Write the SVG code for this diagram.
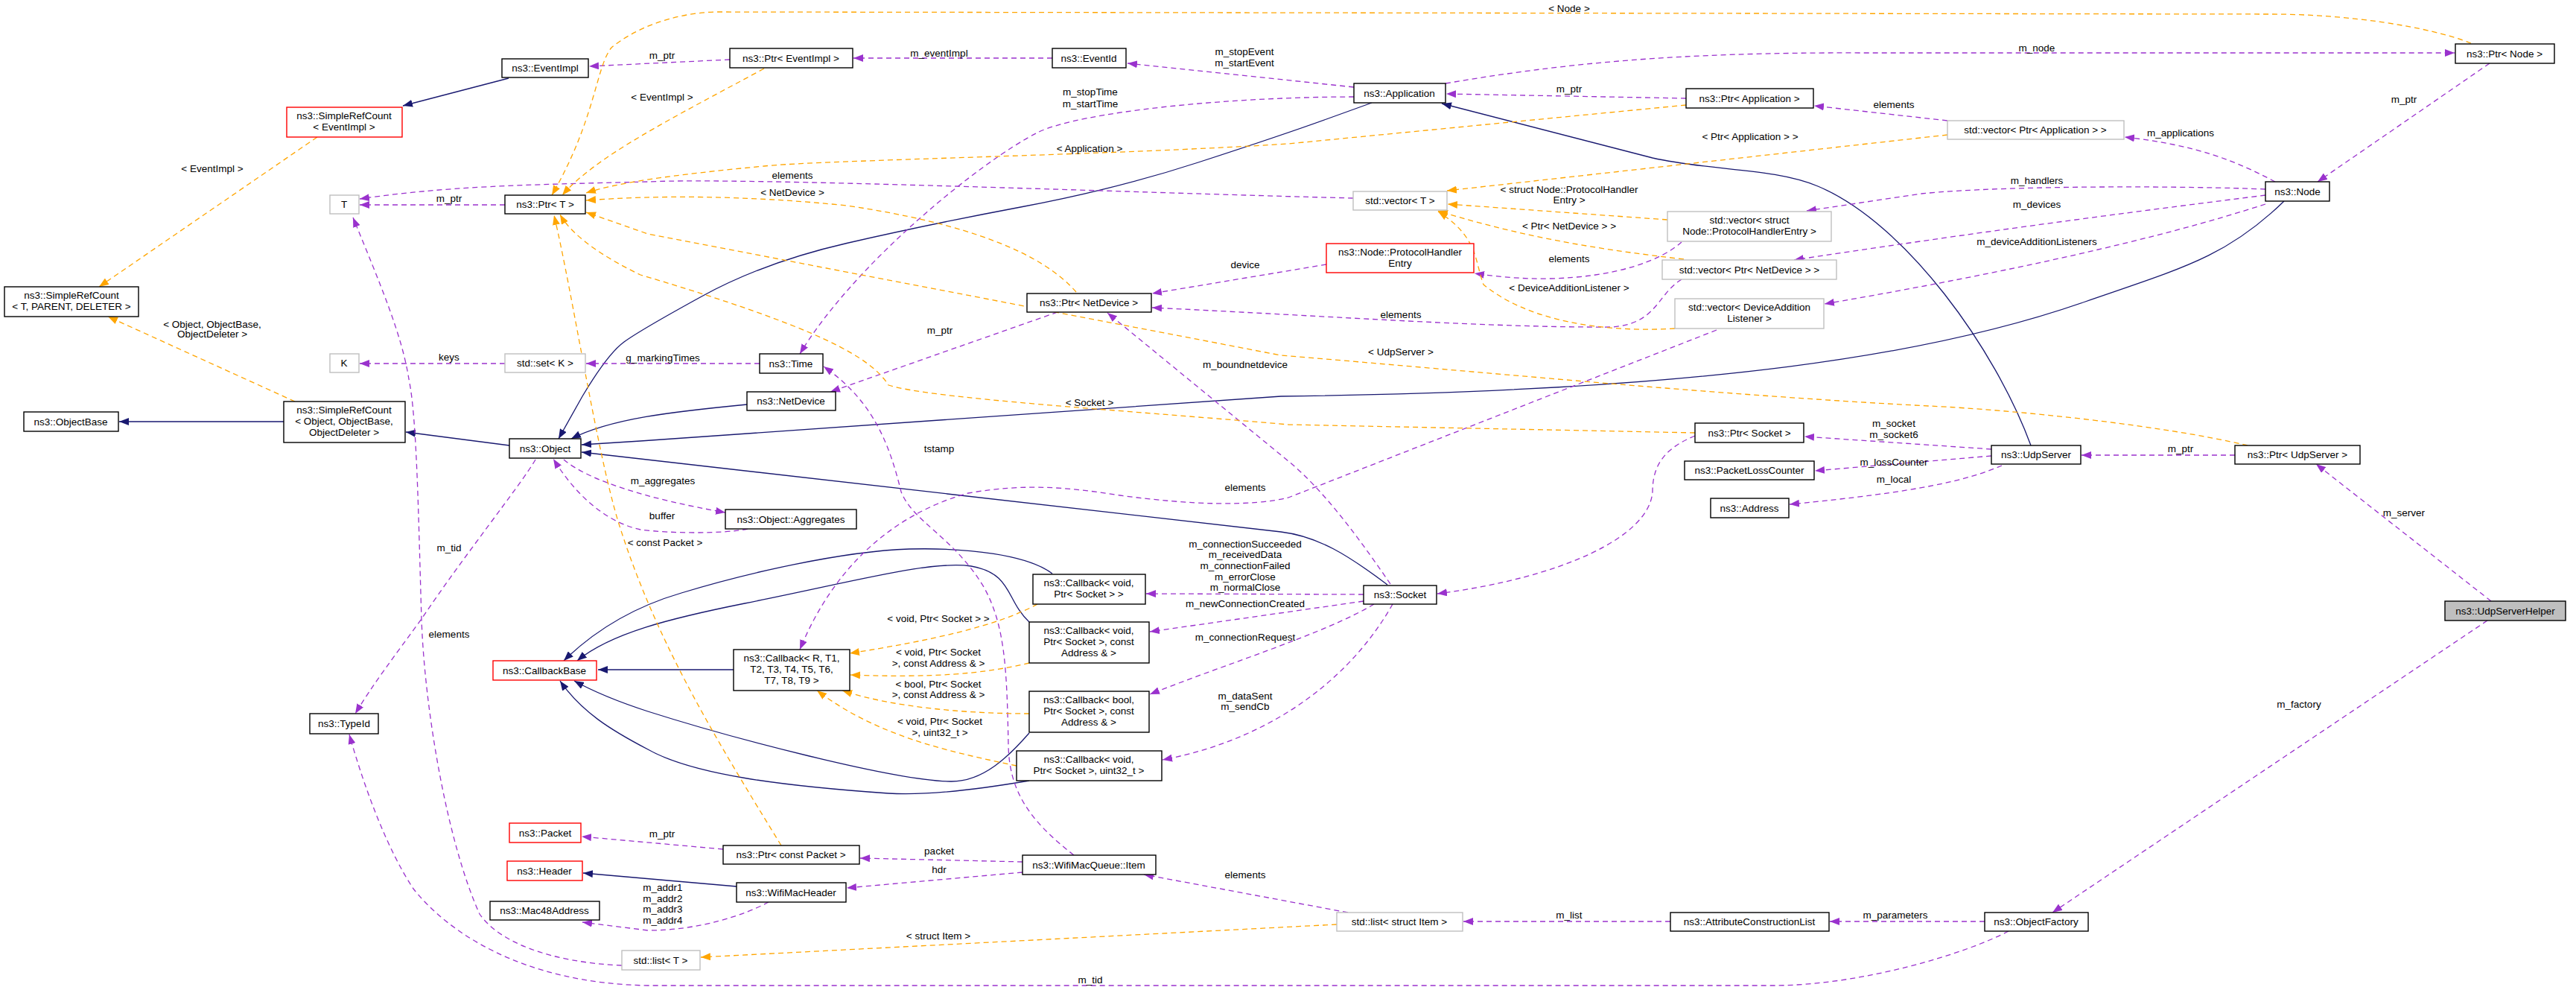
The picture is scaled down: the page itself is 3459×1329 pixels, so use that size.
<svg xmlns="http://www.w3.org/2000/svg" width="3459" height="1329" viewBox="0 0 3459 1329">
<style>
text{font-family:"Liberation Sans",Arial,sans-serif;font-size:13.5px;text-anchor:middle;fill:#000}
.nd rect{fill:#fff;stroke:#000;stroke-width:1.4}
.gr rect{fill:#fff;stroke:#bfbfbf;stroke-width:1.4}
.rd rect{fill:#fff;stroke:#ff0000;stroke-width:1.4}
.cur rect{fill:#bfbfbf;stroke:#000;stroke-width:1.4}
#edges path{fill:none;stroke-width:1.3}
#edges .i{stroke:#191970;marker-end:url(#an)}
#edges .u{stroke:#9a32cd;stroke-dasharray:7,5;marker-end:url(#ap)}
#edges .t{stroke:#ffa500;stroke-dasharray:7,5;marker-end:url(#ao)}
</style>
<defs>
<marker id="an" markerUnits="userSpaceOnUse" markerWidth="14" markerHeight="10" refX="13" refY="5" orient="auto"><path d="M0,0L13,5L0,10z" fill="#191970"/></marker>
<marker id="ap" markerUnits="userSpaceOnUse" markerWidth="14" markerHeight="10" refX="13" refY="5" orient="auto"><path d="M0,0L13,5L0,10z" fill="#9a32cd"/></marker>
<marker id="ao" markerUnits="userSpaceOnUse" markerWidth="14" markerHeight="10" refX="13" refY="5" orient="auto"><path d="M0,0L13,5L0,10z" fill="#ffa500"/></marker>
</defs>
<rect width="3459" height="1329" fill="#fff"/>
<g id="edges">
<path class="i" d="M683,105L541,142"/>
<path class="i" d="M381,566L160,566"/>
<path class="i" d="M684,598L545,580"/>
<path class="i" d="M1842,138L1781,160Q1720,182 1609,218Q1498,254 1373,277.5Q1248,301 1137,326.5Q1026,352 943,397.5Q860,443 838,459Q816,475 782,532L750,589"/>
<path class="i" d="M1003,543C900,553 820,562 767,589"/>
<path class="i" d="M3067,270C2990,345 2930,360 2800,405C2600,475 2300,525 1720,532L860,592L781,597"/>
<path class="i" d="M2727,598C2680,470 2560,300 2441,250C2380,225 2300,230 2219,212L1936,139"/>
<path class="i" d="M1863,785C1810,745 1770,720 1720,714L781,607"/>
<path class="i" d="M985,899L803,899"/>
<path class="i" d="M1413,770C1380,745 1300,735 1221,737C1130,740 1000,770 915,796C850,815 800,845 757,887"/>
<path class="i" d="M1382,835C1350,805 1360,770 1304,760C1250,752 1150,780 1000,810C900,830 820,850 775,887"/>
<path class="i" d="M1382,984C1355,1015 1320,1050 1276,1049C1200,1048 980,990 870,955C830,942 800,930 771,914"/>
<path class="i" d="M1382,1048C1300,1062 1240,1068 1193,1065C1050,1055 930,1040 870,1006C820,980 780,955 752,914"/>
<path class="i" d="M989,1190L783,1172"/>

<path class="u" d="M980,80L791,89"/>
<path class="u" d="M1413,78L1146,78"/>
<path class="u" d="M1818,117L1514,85"/>
<path class="u" d="M1818,130C1650,130 1450,150 1393,178C1320,215 1150,350 1074,475"/>
<path class="u" d="M678,275L483,275"/>
<path class="u" d="M1817,266C1500,258 1000,238 870,244C700,248 600,250 483,267"/>
<path class="u" d="M678,488L483,488"/>
<path class="u" d="M1020,488L787,488"/>
<path class="u" d="M2264,132L1942,126"/>
<path class="u" d="M2615,162L2436,142"/>
<path class="u" d="M3055,244C3000,215 2950,195 2853,184"/>
<path class="u" d="M3343,85L3112,244"/>
<path class="u" d="M1941,112C2100,85 2250,70 2500,71L3296,71"/>
<path class="u" d="M3042,254C2950,250 2700,248 2580,260L2426,283"/>
<path class="u" d="M3042,262C2900,280 2700,305 2409,349"/>
<path class="u" d="M3042,274C2900,320 2700,365 2450,408"/>
<path class="u" d="M2258,325C2230,350 2170,372 2081,374C2040,375 2000,370 1980,367"/>
<path class="u" d="M2258,375C2225,395 2225,435 2164,439C2000,440 1800,425 1547,413"/>
<path class="u" d="M1781,355L1547,394"/>
<path class="u" d="M1420,419L1115,526"/>
<path class="u" d="M1867,784C1830,730 1780,660 1730,619L1487,420"/>
<path class="u" d="M2305,443L1730,668C1680,680 1600,678 1504,665C1440,655 1380,648 1300,662C1200,690 1120,760 1074,872"/>
<path class="u" d="M757,617C790,645 870,670 974,688"/>
<path class="u" d="M1004,710C970,717 900,716 860,711C810,700 770,660 743,616"/>
<path class="u" d="M719,617C700,650 620,750 566,831C530,880 500,920 477,958"/>
<path class="u" d="M835,1296C740,1292 670,1265 644,1227C600,1130 570,950 566,831C562,700 560,560 549,509C540,450 510,380 474,292"/>
<path class="u" d="M2697,1250C2640,1280 2500,1323 2380,1323L870,1323C700,1320 600,1250 555,1193C520,1140 490,1060 469,986"/>
<path class="u" d="M971,1140L781,1123"/>
<path class="u" d="M1373,1157L1155,1152"/>
<path class="u" d="M1373,1171L1137,1192"/>
<path class="u" d="M1032,1211C1000,1228 940,1249 870,1249L782,1238"/>
<path class="u" d="M1442,1148C1380,1100 1355,1060 1354,1000C1352,900 1350,840 1321,788C1280,720 1225,700 1210,660C1195,600 1175,540 1106,492"/>
<path class="u" d="M1810,1225L1536,1174"/>
<path class="u" d="M2243,1237L1965,1237"/>
<path class="u" d="M2665,1237L2457,1237"/>
<path class="u" d="M3340,833L2756,1225"/>
<path class="u" d="M3345,807L3110,623"/>
<path class="u" d="M3001,611L2795,611"/>
<path class="u" d="M2674,603L2423,586"/>
<path class="u" d="M2674,612L2437,632"/>
<path class="u" d="M2688,625C2640,645 2580,660 2403,677"/>
<path class="u" d="M2276,585C2240,600 2219,620 2219,660C2215,720 2100,775 1930,797"/>
<path class="u" d="M1831,798L1539,797"/>
<path class="u" d="M1831,807L1544,848"/>
<path class="u" d="M1845,811C1780,850 1650,890 1544,932"/>
<path class="u" d="M1870,811C1820,900 1720,990 1561,1020"/>

<path class="t" d="M1026,92C900,160 800,210 755,262"/>
<path class="t" d="M426,184L133,385"/>
<path class="t" d="M396,539L145,425"/>
<path class="t" d="M3318,58C3260,35 3150,19 3050,19L960,16C900,18 850,40 821,64C800,90 800,160 741,262"/>
<path class="t" d="M2264,141L1730,193C1500,208 1100,215 1026,223C900,235 830,245 787,259"/>
<path class="t" d="M2615,181L1943,256"/>
<path class="t" d="M2239,295L1944,274"/>
<path class="t" d="M2261,348C2150,335 2050,320 1931,283"/>
<path class="t" d="M2249,441C2150,447 2050,430 1992,382C1980,350 1985,318 1931,284"/>
<path class="t" d="M1445,392C1400,340 1300,300 1137,276C1000,262 880,262 787,269"/>
<path class="t" d="M3018,598C2900,570 2700,550 2590,545C2300,530 2000,500 1720,477L870,314L787,285"/>
<path class="t" d="M2276,581L1730,570C1500,550 1250,535 1193,517C1170,480 1100,440 860,369C820,350 770,320 752,288"/>
<path class="t" d="M1049,1135C960,990 880,860 830,700C800,600 770,400 744,289"/>
<path class="t" d="M1393,811C1340,840 1250,860 1141,877"/>
<path class="t" d="M1382,890C1320,905 1250,910 1142,906"/>
<path class="t" d="M1382,958C1300,958 1200,950 1131,927"/>
<path class="t" d="M1365,1028C1280,1010 1180,990 1097,927"/>
<path class="t" d="M1795,1241L941,1285"/>
</g>
<g id="labels">
<text x="889" y="79">m_ptr</text>
<text x="1261" y="76">m_eventImpl</text>
<text x="1671" y="74">m_stopEvent</text><text x="1671" y="89">m_startEvent</text>
<text x="1464" y="128">m_stopTime</text><text x="1464" y="144">m_startTime</text>
<text x="1463" y="204">&lt; Application &gt;</text>
<text x="1064" y="240">elements</text>
<text x="1064" y="263">&lt; NetDevice &gt;</text>
<text x="889" y="135">&lt; EventImpl &gt;</text>
<text x="1672" y="360">device</text>
<text x="1262" y="448">m_ptr</text>
<text x="890" y="485">g_markingTimes</text>
<text x="1672" y="494">m_boundnetdevice</text>
<text x="1463" y="545">&lt; Socket &gt;</text>
<text x="1261" y="607">tstamp</text>
<text x="890" y="650">m_aggregates</text>
<text x="1672" y="659">elements</text>
<text x="285" y="231">&lt; EventImpl &gt;</text>
<text x="603" y="271">m_ptr</text>
<text x="285" y="440">&lt; Object, ObjectBase,</text><text x="285" y="453">ObjectDeleter &gt;</text>
<text x="603" y="484">keys</text>
<text x="2107" y="16">&lt; Node &gt;</text>
<text x="2107" y="124">m_ptr</text>
<text x="2543" y="145">elements</text>
<text x="2350" y="188">&lt; Ptr&lt; Application &gt; &gt;</text>
<text x="2107" y="259">&lt; struct Node::ProtocolHandler</text><text x="2107" y="273">Entry &gt;</text>
<text x="2107" y="308">&lt; Ptr&lt; NetDevice &gt; &gt;</text>
<text x="2107" y="352">elements</text>
<text x="2107" y="391">&lt; DeviceAdditionListener &gt;</text>
<text x="1881" y="427">elements</text>
<text x="1881" y="477">&lt; UdpServer &gt;</text>
<text x="2543" y="573">m_socket</text><text x="2543" y="588">m_socket6</text>
<text x="2543" y="625">m_lossCounter</text>
<text x="2543" y="648">m_local</text>
<text x="2735" y="69">m_node</text>
<text x="3228" y="138">m_ptr</text>
<text x="2928" y="183">m_applications</text>
<text x="2735" y="247">m_handlers</text>
<text x="2735" y="279">m_devices</text>
<text x="2735" y="329">m_deviceAdditionListeners</text>
<text x="2928" y="607">m_ptr</text>
<text x="603" y="740">m_tid</text>
<text x="603" y="856">elements</text>
<text x="889" y="697">buffer</text>
<text x="893" y="733">&lt; const Packet &gt;</text>
<text x="1672" y="735">m_connectionSucceeded</text><text x="1672" y="749">m_receivedData</text><text x="1672" y="764">m_connectionFailed</text><text x="1672" y="779">m_errorClose</text><text x="1672" y="793">m_normalClose</text>
<text x="1672" y="815">m_newConnectionCreated</text>
<text x="1672" y="860">m_connectionRequest</text>
<text x="1260" y="835">&lt; void, Ptr&lt; Socket &gt; &gt;</text>
<text x="1260" y="880">&lt; void, Ptr&lt; Socket</text><text x="1260" y="895">&gt;, const Address &amp; &gt;</text>
<text x="1260" y="923">&lt; bool, Ptr&lt; Socket</text><text x="1260" y="937">&gt;, const Address &amp; &gt;</text>
<text x="1262" y="973">&lt; void, Ptr&lt; Socket</text><text x="1262" y="988">&gt;, uint32_t &gt;</text>
<text x="1672" y="939">m_dataSent</text><text x="1672" y="953">m_sendCb</text>
<text x="889" y="1124">m_ptr</text>
<text x="1261" y="1147">packet</text>
<text x="1261" y="1172">hdr</text>
<text x="890" y="1196">m_addr1</text><text x="890" y="1211">m_addr2</text><text x="890" y="1225">m_addr3</text><text x="890" y="1240">m_addr4</text>
<text x="1672" y="1179">elements</text>
<text x="1260" y="1261">&lt; struct Item &gt;</text>
<text x="1464" y="1320">m_tid</text>
<text x="2107" y="1233">m_list</text>
<text x="2545" y="1233">m_parameters</text>
<text x="3228" y="693">m_server</text>
<text x="3087" y="950">m_factory</text>
</g>
<g id="n-eventimpl" class="nd"><rect x="674" y="79" width="116" height="25"/><text x="732" y="96">ns3::EventImpl</text></g>
<g id="n-src-eventimpl" class="rd"><rect x="385" y="144" width="155" height="40"/><text x="462" y="160">ns3::SimpleRefCount</text><text x="462" y="175">&lt; EventImpl &gt;</text></g>
<g id="n-t" class="gr"><rect x="443" y="262" width="39" height="25"/><text x="462" y="279">T</text></g>
<g id="n-ptr-t" class="nd"><rect x="678" y="262" width="108" height="25"/><text x="732" y="279">ns3::Ptr&lt; T &gt;</text></g>
<g id="n-src-tpd" class="nd"><rect x="6" y="385" width="180" height="40"/><text x="96" y="401">ns3::SimpleRefCount</text><text x="96" y="416">&lt; T, PARENT, DELETER &gt;</text></g>
<g id="n-k" class="gr"><rect x="443" y="475" width="39" height="25"/><text x="462" y="492">K</text></g>
<g id="n-set-k" class="gr"><rect x="678" y="475" width="108" height="25"/><text x="732" y="492">std::set&lt; K &gt;</text></g>
<g id="n-objectbase" class="nd"><rect x="32" y="553" width="127" height="26"/><text x="95" y="571">ns3::ObjectBase</text></g>
<g id="n-src-object" class="nd"><rect x="381" y="539" width="163" height="55"/><text x="462" y="555">ns3::SimpleRefCount</text><text x="462" y="570">&lt; Object, ObjectBase,</text><text x="462" y="585">ObjectDeleter &gt;</text></g>
<g id="n-object" class="nd"><rect x="684" y="589" width="96" height="26"/><text x="732" y="607">ns3::Object</text></g>
<g id="n-ptr-eventimpl" class="nd"><rect x="980" y="65" width="165" height="26"/><text x="1062" y="83">ns3::Ptr&lt; EventImpl &gt;</text></g>
<g id="n-eventid" class="nd"><rect x="1413" y="65" width="99" height="26"/><text x="1462" y="83">ns3::EventId</text></g>
<g id="n-ptr-netdevice" class="nd"><rect x="1379" y="394" width="167" height="25"/><text x="1462" y="411">ns3::Ptr&lt; NetDevice &gt;</text></g>
<g id="n-time" class="nd"><rect x="1020" y="475" width="85" height="26"/><text x="1062" y="493">ns3::Time</text></g>
<g id="n-netdevice" class="nd"><rect x="1003" y="526" width="119" height="25"/><text x="1062" y="543">ns3::NetDevice</text></g>
<g id="n-application" class="nd"><rect x="1818" y="112" width="123" height="26"/><text x="1879" y="130">ns3::Application</text></g>
<g id="n-ptr-application" class="nd"><rect x="2264" y="119" width="171" height="26"/><text x="2349" y="137">ns3::Ptr&lt; Application &gt;</text></g>
<g id="n-vector-t" class="gr"><rect x="1817" y="257" width="126" height="25"/><text x="1880" y="274">std::vector&lt; T &gt;</text></g>
<g id="n-phe" class="rd"><rect x="1781" y="327" width="198" height="39"/><text x="1880" y="343">ns3::Node::ProtocolHandler</text><text x="1880" y="358">Entry</text></g>
<g id="n-vector-phe" class="gr"><rect x="2239" y="284" width="220" height="40"/><text x="2349" y="300">std::vector&lt; struct</text><text x="2349" y="315">Node::ProtocolHandlerEntry &gt;</text></g>
<g id="n-vector-ptr-netdevice" class="gr"><rect x="2232" y="349" width="234" height="26"/><text x="2349" y="367">std::vector&lt; Ptr&lt; NetDevice &gt; &gt;</text></g>
<g id="n-vector-dal" class="gr"><rect x="2249" y="401" width="200" height="40"/><text x="2349" y="417">std::vector&lt; DeviceAddition</text><text x="2349" y="432">Listener &gt;</text></g>
<g id="n-ptr-socket" class="nd"><rect x="2276" y="568" width="146" height="26"/><text x="2349" y="586">ns3::Ptr&lt; Socket &gt;</text></g>
<g id="n-packetlosscounter" class="nd"><rect x="2262" y="619" width="174" height="25"/><text x="2349" y="636">ns3::PacketLossCounter</text></g>
<g id="n-ptr-node" class="nd"><rect x="3297" y="59" width="133" height="26"/><text x="3363" y="77">ns3::Ptr&lt; Node &gt;</text></g>
<g id="n-vector-ptr-application" class="gr"><rect x="2615" y="162" width="237" height="25"/><text x="2733" y="179">std::vector&lt; Ptr&lt; Application &gt; &gt;</text></g>
<g id="n-node" class="nd"><rect x="3042" y="244" width="86" height="26"/><text x="3085" y="262">ns3::Node</text></g>
<g id="n-udpserver" class="nd"><rect x="2674" y="598" width="120" height="25"/><text x="2734" y="615">ns3::UdpServer</text></g>
<g id="n-ptr-udpserver" class="nd"><rect x="3001" y="598" width="168" height="25"/><text x="3085" y="615">ns3::Ptr&lt; UdpServer &gt;</text></g>
<g id="n-typeid" class="nd"><rect x="416" y="958" width="92" height="27"/><text x="462" y="976">ns3::TypeId</text></g>
<g id="n-callbackbase" class="rd"><rect x="662" y="887" width="139" height="26"/><text x="731" y="905">ns3::CallbackBase</text></g>
<g id="n-packet" class="rd"><rect x="684" y="1105" width="96" height="26"/><text x="732" y="1123">ns3::Packet</text></g>
<g id="n-header" class="rd"><rect x="681" y="1156" width="101" height="26"/><text x="731" y="1174">ns3::Header</text></g>
<g id="n-mac48address" class="nd"><rect x="658" y="1210" width="147" height="25"/><text x="731" y="1227">ns3::Mac48Address</text></g>
<g id="n-list-t" class="gr"><rect x="835" y="1276" width="105" height="26"/><text x="887" y="1294">std::list&lt; T &gt;</text></g>
<g id="n-aggregates" class="nd"><rect x="974" y="684" width="176" height="26"/><text x="1062" y="702">ns3::Object::Aggregates</text></g>
<g id="n-cb-void-socket" class="nd"><rect x="1387" y="771" width="151" height="40"/><text x="1462" y="787">ns3::Callback&lt; void,</text><text x="1462" y="802">Ptr&lt; Socket &gt; &gt;</text></g>
<g id="n-cb-void-socket-addr" class="nd"><rect x="1382" y="835" width="161" height="55"/><text x="1462" y="851">ns3::Callback&lt; void,</text><text x="1462" y="866">Ptr&lt; Socket &gt;, const</text><text x="1462" y="881">Address &amp; &gt;</text></g>
<g id="n-cb-r" class="nd"><rect x="985" y="872" width="156" height="55"/><text x="1063" y="888">ns3::Callback&lt; R, T1,</text><text x="1063" y="903">T2, T3, T4, T5, T6,</text><text x="1063" y="918">T7, T8, T9 &gt;</text></g>
<g id="n-cb-bool" class="nd"><rect x="1382" y="928" width="161" height="55"/><text x="1462" y="944">ns3::Callback&lt; bool,</text><text x="1462" y="959">Ptr&lt; Socket &gt;, const</text><text x="1462" y="974">Address &amp; &gt;</text></g>
<g id="n-cb-void-uint" class="nd"><rect x="1365" y="1008" width="195" height="40"/><text x="1462" y="1024">ns3::Callback&lt; void,</text><text x="1462" y="1039">Ptr&lt; Socket &gt;, uint32_t &gt;</text></g>
<g id="n-ptr-const-packet" class="nd"><rect x="971" y="1135" width="183" height="25"/><text x="1062" y="1152">ns3::Ptr&lt; const Packet &gt;</text></g>
<g id="n-item" class="nd"><rect x="1373" y="1148" width="179" height="26"/><text x="1462" y="1166">ns3::WifiMacQueue::Item</text></g>
<g id="n-wifimacheader" class="nd"><rect x="989" y="1185" width="147" height="26"/><text x="1062" y="1203">ns3::WifiMacHeader</text></g>
<g id="n-socket" class="nd"><rect x="1831" y="786" width="98" height="25"/><text x="1880" y="803">ns3::Socket</text></g>
<g id="n-address" class="nd"><rect x="2297" y="669" width="105" height="26"/><text x="2349" y="687">ns3::Address</text></g>
<g id="n-list-item" class="gr"><rect x="1795" y="1225" width="169" height="25"/><text x="1879" y="1242">std::list&lt; struct Item &gt;</text></g>
<g id="n-acl" class="nd"><rect x="2243" y="1225" width="213" height="25"/><text x="2349" y="1242">ns3::AttributeConstructionList</text></g>
<g id="n-udpserverhelper" class="cur"><rect x="3283" y="807" width="162" height="26"/><text x="3364" y="825">ns3::UdpServerHelper</text></g>
<g id="n-objectfactory" class="nd"><rect x="2665" y="1225" width="139" height="25"/><text x="2734" y="1242">ns3::ObjectFactory</text></g>
</svg>
